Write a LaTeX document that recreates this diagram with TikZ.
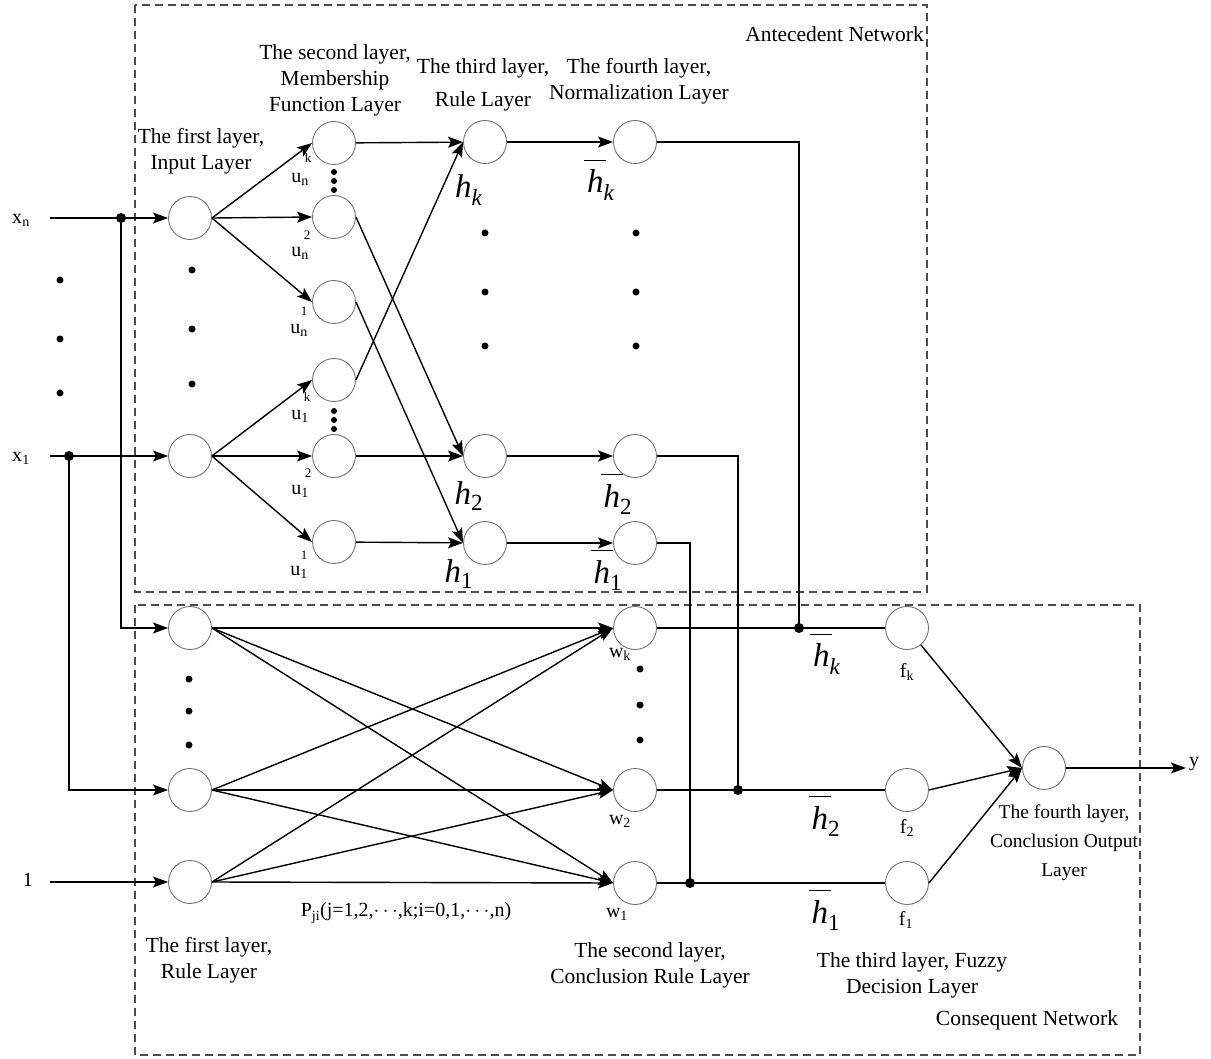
\documentclass[tikz,border=0pt]{standalone}
\usepackage{fontspec}
\setmainfont{Liberation Serif}
\usetikzlibrary{arrows.meta}
\newcommand\hlab[1]{\textit{h}\textsubscript{#1}}
\newcommand\hbarlab[1]{\rlap{$\mkern-2mu\overline{\rule{0pt}{0.95em}\hphantom{\textit{h}}\mkern4mu}$}\textit{h}\textsubscript{#1}}
\begin{document}
\begin{tikzpicture}[x=1pt,y=-1pt,
 neuron/.style={circle,draw=black!55,line width=0.9pt,minimum size=43pt,inner sep=0pt},
 conn/.style={line width=1.4pt},
 arr/.style={conn,-{Stealth[length=15pt,width=11pt,inset=3pt]}},
 ldot/.style={circle,fill=black,inner sep=0pt,minimum size=7pt},
 sdot/.style={circle,fill=black,inner sep=0pt,minimum size=6pt},
 jdot/.style={circle,fill=black,inner sep=0pt,minimum size=10pt},
 txt/.style={font=\fontsize{21.5}{26}\selectfont,align=center,inner sep=0pt},
 lab/.style={font=\fontsize{20}{22}\selectfont,inner sep=0pt},
 sup/.style={font=\fontsize{13}{14}\selectfont,inner sep=0pt},
 hl/.style={font=\fontsize{33}{36}\selectfont,inner sep=0pt},
 netbox/.style={draw=black!70,line width=1.1pt,dash pattern=on 8pt off 5pt}]

\useasboundingbox (0,0) rectangle (1211,1059);
\draw[netbox] (135,5) rectangle (927,592);
\draw[netbox] (135,605) rectangle (1140,1055);

% ---------- antecedent network ----------
\node[neuron] (xn) at (190,218) {};
\node[neuron] (xo) at (190,456) {};
\node[neuron] (unk) at (334,143) {};
\node[neuron] (un2) at (334,217) {};
\node[neuron] (un1) at (334,302) {};
\node[neuron] (uok) at (334,380) {};
\node[neuron] (uo2) at (334,456) {};
\node[neuron] (uo1) at (334,542) {};
\node[neuron] (hk) at (485,142) {};
\node[neuron] (h2) at (485,456) {};
\node[neuron] (h1) at (485,543) {};
\node[neuron] (nk) at (635,142) {};
\node[neuron] (n2) at (635,456) {};
\node[neuron] (n1) at (635,543) {};

% dots
\foreach \y [count=\i] in {280,339,393} \node[ldot] (ld\i) at (60,\y) {};
\foreach \y [count=\i] in {270,329,384} \node[ldot] (id\i) at (192,\y) {};
\foreach \y [count=\i] in {233,292,346} \node[ldot] (rd\i) at (485,\y) {};
\foreach \y [count=\i] in {233,292,346} \node[ldot] (nd\i) at (636,\y) {};
\foreach \y [count=\i] in {172,181,190} \node[sdot] (ma\i) at (334,\y) {};
\foreach \y [count=\i] in {411,420,429} \node[sdot] (mb\i) at (334,\y) {};

% input labels and lines
\node[lab] (lxn) at (21,220) {x\textsubscript{n}};
\node[lab] (lxo) at (21,458) {x\textsubscript{1}};
\coordinate (xnin) at (50,218);
\coordinate (xoin) at (50,456);
\draw[arr] (xnin) -- (xn);
\draw[arr] (xoin) -- (xo);
\node[jdot] (jn) at (121,218) {};
\node[jdot] (jo) at (69,456) {};

% membership labels
\node[sup] (sunk) at (308,158) {k};   \node[lab] (munk) at (300,179) {u\textsubscript{n}};
\node[sup] (sun2) at (307,235) {2};   \node[lab] (mun2) at (300,253) {u\textsubscript{n}};
\node[sup] (sun1) at (304,311) {1};   \node[lab] (mun1) at (299,330) {u\textsubscript{n}};
\node[sup] (suok) at (307,397) {k};   \node[lab] (muok) at (300,416) {u\textsubscript{1}};
\node[sup] (suo2) at (308,473) {2};   \node[lab] (muo2) at (300,491) {u\textsubscript{1}};
\node[sup] (suo1) at (304,555) {1};   \node[lab] (muo1) at (299,572) {u\textsubscript{1}};

% h labels
\node[hl] (lhk) at (469,190) {\hlab{\textit{k}}};
\node[hl] (lh2) at (469,496) {\hlab{2}};
\node[hl] (lh1) at (459,574) {\hlab{1}};
\node[hl] (lnk) at (601,180) {\hbarlab{\textit{k}}};
\node[hl] (ln2) at (618,494) {\hbarlab{2}};
\node[hl] (ln1) at (608,570) {\hbarlab{1}};

% layer titles
\node[txt] (t1) at (201,151) {The first layer,\\Input Layer};
\node[txt] (t2) at (335,80) {The second layer,\\Membership\\Function Layer};
\node[txt] (t3) at (483,85) {The third layer,\\[7pt]Rule Layer};
\node[txt] (t4) at (639,81) {The fourth layer,\\Normalization Layer};
\node[txt,anchor=east] (tan) at (924,34) {Antecedent Network};

% edges antecedent
\foreach \t in {unk,un2,un1} \draw[arr] (xn.east) -- (\t.west);
\foreach \t in {uok,uo2,uo1} \draw[arr] (xo.east) -- (\t.west);
\draw[arr] (unk) -- (hk);
\draw[arr] (uok.east) -- (hk.west);
\draw[arr] (un2.east) -- (h2.west);
\draw[arr] (uo2) -- (h2);
\draw[arr] (un1.east) -- (h1.west);
\draw[arr] (uo1) -- (h1);
\draw[arr] (hk) -- (nk);
\draw[arr] (h2) -- (n2);
\draw[arr] (h1) -- (n1);

% ---------- consequent network ----------
\node[neuron] (ra) at (190,628) {};
\node[neuron] (rb) at (190,790) {};
\node[neuron] (rc) at (190,882) {};
\node[neuron] (wk) at (635,628) {};
\node[neuron] (w2) at (635,790) {};
\node[neuron] (w1) at (635,883) {};
\node[neuron] (fk) at (907,628) {};
\node[neuron] (f2) at (907,790) {};
\node[neuron] (f1) at (907,883) {};
\node[neuron] (out) at (1044,768) {};

\foreach \y [count=\i] in {679,711,745} \node[ldot] (cd\i) at (189,\y) {};
\foreach \y [count=\i] in {669,705,740} \node[ldot] (wd\i) at (640,\y) {};

\node[lab] (lone) at (28,880) {1};
\coordinate (onein) at (50,882);
\draw[arr] (onein) -- (rc);
\draw[arr] (jn.center) |- (ra.west);
\draw[arr] (jo.center) |- (rb.west);

\foreach \a in {ra,rb,rc} \foreach \b in {wk,w2,w1} \draw[arr] (\a.east) -- (\b.west);

\node[jdot] (jk) at (799,628) {};
\node[jdot] (j2) at (738,790) {};
\node[jdot] (j1) at (690,883) {};
\draw[conn] (wk) -- (fk);
\draw[conn] (w2) -- (f2);
\draw[conn] (w1) -- (f1);
\draw[conn] (nk.east) -| (jk.center);
\draw[conn] (n2.east) -| (j2.center);
\draw[conn] (n1.east) -| (j1.center);

\draw[arr] (fk) -- (out.west);
\draw[arr] (f2.east) -- (out.west);
\draw[arr] (f1.east) -- (out.west);
\coordinate (yend) at (1186,768);
\draw[arr] (out) -- (yend);
\node[lab] (ly) at (1194,764) {y};

\node[lab] (lwk) at (620,654) {w\textsubscript{k}};
\node[lab] (lw2) at (620,821) {w\textsubscript{2}};
\node[lab] (lw1) at (617,914) {w\textsubscript{1}};
\node[lab] (lfk) at (907,672) {f\textsubscript{k}};
\node[lab] (lf2) at (907,828) {f\textsubscript{2}};
\node[lab] (lf1) at (906,920) {f\textsubscript{1}};
\node[hl] (lbk) at (827,654) {\hbarlab{\textit{k}}};
\node[hl] (lb2) at (826,816) {\hbarlab{2}};
\node[hl] (lb1) at (826,910) {\hbarlab{1}};

\node[lab] (lp) at (406,913) {P\textsubscript{ji}(j=1,2,$\cdots$,k;i=0,1,$\cdots$,n)};
\node[txt] (c1) at (209,960) {The first layer,\\Rule Layer};
\node[txt] (c2) at (650,965) {The second layer,\\Conclusion Rule Layer};
\node[txt] (c3) at (912,975) {The third layer, Fuzzy\\Decision Layer};
\node[txt] (c4) at (1064,843) [font=\fontsize{19.5}{29}\selectfont] {The fourth layer,\\Conclusion Output\\Layer};
\node[txt] (tcn) at (1027,1020) {Consequent Network};
\end{tikzpicture}
\end{document}
